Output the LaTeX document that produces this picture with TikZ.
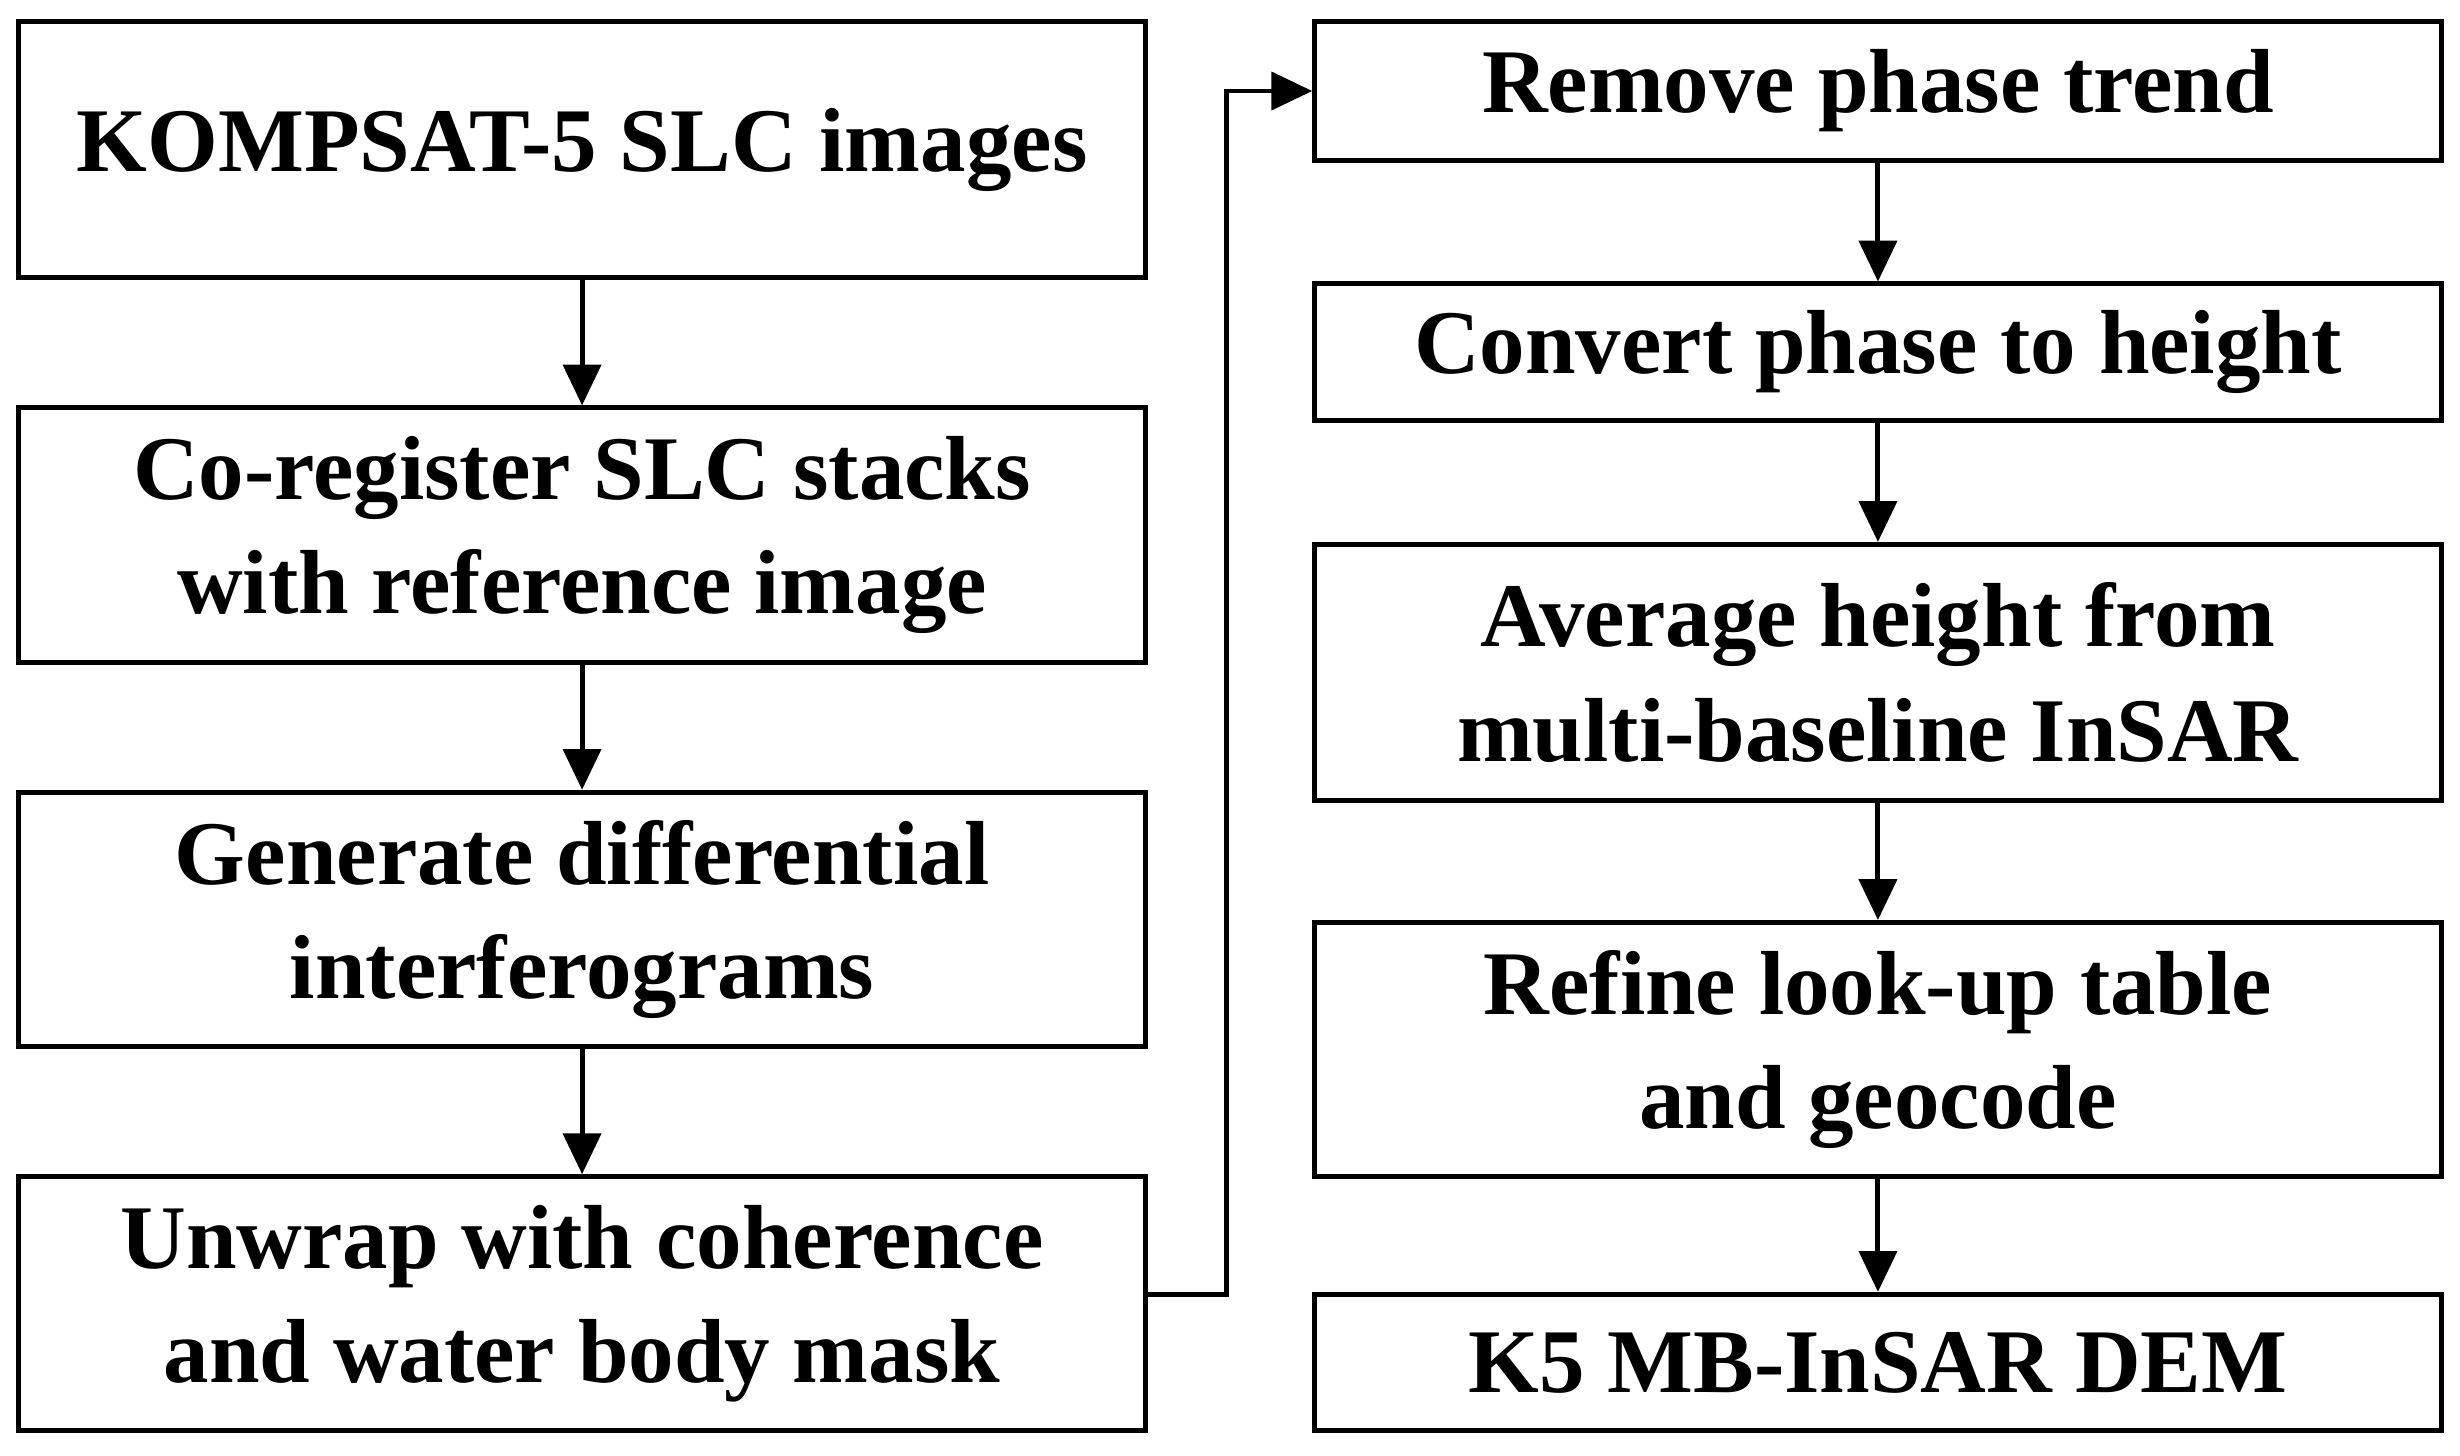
\documentclass[tikz,border=0pt]{standalone}
\usepackage{fontspec}
\setmainfont{Liberation Serif}
\usetikzlibrary{arrows.meta}
\begin{document}
\begin{tikzpicture}[x=0.1mm,y=-0.1mm,
  box/.style={draw,line width=0.9pt,minimum width=71.8mm,align=center,inner sep=0pt,
    font=\fontsize{16.5}{20.8}\selectfont\bfseries},
  arr/.style={line width=0.9pt,-{Triangle[length=2.6mm,width=2.4mm]}}]
\useasboundingbox (0,0) rectangle (1568,928);
\node[box,minimum height=16.3mm] (l1) at (371,95.5) {KOMPSAT-5 SLC images};
\node[box,minimum height=16.2mm] (l2) at (371,341) {Co-register SLC stacks\\with reference image};
\node[box,minimum height=16.2mm] (l3) at (371,586) {Generate differential\\interferograms};
\node[box,minimum height=16.2mm] (l4) at (371,831) {Unwrap with coherence\\and water body mask};
\node[box,minimum height=8.8mm] (r1) at (1197,58) {Remove phase trend};
\node[box,minimum height=8.7mm] (r2) at (1197,224.5) {Convert phase to height};
\node[box,minimum height=16.3mm] (r3) at (1197,428.5) {Average height from\\multi-baseline InSAR};
\node[box,minimum height=16.2mm] (r4) at (1197,669) {Refine look-up table\\and geocode};
\node[box,minimum height=8.7mm] (r5) at (1197,868.5) {K5 MB-InSAR DEM};
\draw[arr] (l1) -- (l2);
\draw[arr] (l2) -- (l3);
\draw[arr] (l3) -- (l4);
\draw[arr] (r1) -- (r2);
\draw[arr] (r2) -- (r3);
\draw[arr] (r3) -- (r4);
\draw[arr] (r4) -- (r5);
\coordinate (c1) at (782,825);
\coordinate (c2) at (782,58);
\draw[arr] (l4.east |- c1) -- (c1) -- (c2) -- (r1.west);
\end{tikzpicture}
\end{document}
